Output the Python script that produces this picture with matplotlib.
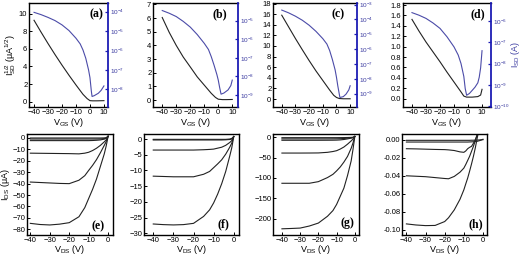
import matplotlib
matplotlib.use("Agg")
import matplotlib.pyplot as plt
from matplotlib.ticker import LogLocator, NullLocator

plt.rcParams['font.family'] = ['Liberation Sans', 'DejaVu Sans']
plt.rcParams['mathtext.fontset'] = 'custom'
plt.rcParams['mathtext.rm'] = 'Liberation Sans'
plt.rcParams['mathtext.it'] = 'Liberation Sans:italic'
plt.rcParams['mathtext.default'] = 'regular'

# ---- transfer curves (top row) ----
# (a)
vg_a_sqrt = [-40, -35, -30, -25, -20, -15, -10, -5, -2, 0, 2, 5, 10]
sqrt_a = [9.24, 7.9, 6.6, 5.35, 4.15, 3.0, 1.9, 0.84, 0.35, 0.12, 0.1, 0.1, 0.12]
vg_a_log = [-40, -35, -30, -25, -20, -15, -10, -7, -5, -3, -1, 0, 1, 1.5, 3, 6, 8, 10]
isd_a = [9.3e-5, 7.1e-5, 5.1e-5, 3.5e-5, 2.1e-5, 1.07e-5, 4.3e-6, 2.2e-6, 1.07e-6,
         4.0e-7, 1.0e-7, 4.0e-8, 7.9e-9, 4.3e-9, 4.7e-9, 6.3e-9, 8.9e-9, 1.5e-8]

# (b)
vg_b_sqrt = [-40, -35, -30, -25, -20, -15, -10, -5, -2, 0, 3, 6, 10]
sqrt_b = [6.04, 4.95, 4.0, 3.15, 2.43, 1.7, 1.1, 0.5, 0.2, 0.07, 0.04, 0.04, 0.05]
vg_b_log = [-40, -35, -30, -25, -20, -15, -10, -7, -5, -3, -1, 0, 1, 2, 4, 7, 9, 10]
isd_b = [3.5e-5, 2.5e-5, 1.66e-5, 9.1e-6, 4.5e-6, 1.78e-6, 6.0e-7, 2.8e-7, 1.15e-7,
         4.0e-8, 1.26e-8, 6.3e-9, 2.5e-9, 1.1e-9, 1.26e-9, 1.86e-9, 3.2e-9, 6.3e-9]

# (c)
vg_c_sqrt = [-40, -35, -30, -25, -20, -15, -10, -5, -2, 0, 2, 5, 10]
sqrt_c = [15.8, 13.6, 11.4, 9.3, 7.25, 5.3, 3.5, 1.7, 0.7, 0.3, 0.1, 0.05, 0.05]
vg_c_log = [-40, -35, -30, -25, -20, -15, -10, -7, -5, -3, -1, 0, 1, 2.5, 5, 7, 9, 10]
isd_c = [4.3e-4, 2.8e-4, 1.66e-4, 8.9e-5, 4.1e-5, 1.58e-5, 5.1e-6, 2.2e-6, 8.1e-7,
         2.0e-7, 4.0e-8, 1.26e-8, 3.2e-9, 5.5e-10, 6.3e-10, 9.3e-10, 1.78e-9, 3.4e-9]

# (d)
vg_d_sqrt = [-40, -35, -30, -25, -20, -15, -10, -5, -3, -1, 3, 7, 9, 10]
sqrt_d = [1.525, 1.3, 1.09, 0.9, 0.71, 0.51, 0.32, 0.13, 0.05, 0.03, 0.03, 0.04, 0.07, 0.18]
vg_d_log = [-40, -35, -30, -25, -20, -15, -10, -7, -5, -3, -2, -1, 1, 3, 5, 7, 8, 9, 10]
isd_d = [2.4e-6, 1.82e-6, 1.29e-6, 7.9e-7, 4.4e-7, 1.78e-7, 6.0e-8, 2.5e-8, 1.0e-8,
         2.5e-9, 6.8e-10, 3.3e-10, 4.0e-10, 5.6e-10, 7.9e-10, 1.26e-9, 2.3e-9, 6.3e-9, 4.0e-8]

# ---- output curves (bottom row) ----
vds = [-40, -35, -30, -25, -20, -15, -12, -10, -8, -6, -4, -2, -1, 0]

ids_e = [
    [-74.8, -75.8, -76.2, -75.5, -74.2, -69, -61, -53, -45, -36, -25, -14, -7, 1.5],
    [-38.6, -39, -39.4, -39.8, -40, -37, -33, -28.4, -24, -19, -13, -6.5, -3.2, 1.5],
    [-13.3, -13.4, -13.5, -13.6, -13.7, -13.9, -13.3, -12.5, -11, -9, -6.5, -3.4, -1.7, 1.5],
    [-2.3, -2.3, -2.3, -2.3, -2.3, -2.3, -2.3, -2.3, -2.2, -2.0, -1.7, -1.0, -0.4, 1.5],
    [-0.9, -0.9, -0.9, -0.9, -0.9, -0.9, -0.9, -0.9, -0.9, -0.9, -0.8, -0.5, -0.1, 1.5],
    [0.0, 0.0, 0.0, 0.0, 0.0, 0.0, 0.0, 0.0, 0.0, 0.0, 0.0, 0.1, 0.3, 1.5],
]

ids_f = [
    [-27.0, -27.2, -27.3, -27.2, -26.8, -24.6, -22.5, -20.3, -17.5, -14.2, -10.3, -5.4, -2.8, 0.8],
    [-11.8, -11.9, -12.0, -12.0, -12.0, -11.2, -10.3, -9.1, -7.9, -6.6, -4.8, -2.6, -1.3, 0.8],
    [-3.5, -3.5, -3.5, -3.5, -3.5, -3.4, -3.3, -3.2, -2.9, -2.6, -2.0, -1.1, -0.5, 0.8],
    [-0.3, -0.3, -0.3, -0.3, -0.3, -0.3, -0.3, -0.3, -0.3, -0.3, -0.25, -0.15, 0.0, 0.8],
    [-0.1, -0.1, -0.1, -0.1, -0.1, -0.1, -0.1, -0.1, -0.1, -0.1, -0.1, 0.0, 0.2, 0.8],
]

ids_g = [
    [-224.8, -224, -223, -218, -210.7, -194, -180, -165, -145, -125, -94, -58, -30, 2],
    [-113, -113, -113, -113, -109, -99, -91, -82.6, -73, -61, -47, -27, -14, 2],
    [-38.8, -38.8, -38.8, -38.7, -38.5, -37, -35, -33, -29, -24, -17, -9, -4.5, 2],
    [-7.4, -7.4, -7.4, -7.4, -7.4, -7.3, -7.2, -7.0, -6.5, -5.5, -4.0, -2.2, -1.0, 2],
    [-4.0, -4.0, -4.0, -4.0, -4.0, -4.0, -3.9, -3.8, -3.5, -3.0, -2.2, -1.2, -0.5, 2],
    [-1.0, -1.0, -1.0, -1.0, -1.0, -1.0, -1.0, -1.0, -0.9, -0.8, -0.6, -0.3, 0.0, 2],
]

vds_h = [-40, -35, -30, -25, -20, -18, -15, -12, -10, -9, -8, -7, -6, -5, -4, -3, -2, -1, 0]
ids_h = [
    [-0.0933, -0.0945, -0.0952, -0.095, -0.0907, -0.0865, -0.0778, -0.066, -0.0556, -0.049,
     -0.0426, -0.035, -0.027, -0.0185, -0.009, 0.002, 0.012, 0.02, 0.03],
    [-0.040, -0.0405, -0.041, -0.042, -0.043, -0.0433, -0.0407, -0.036, -0.0315, -0.0275,
     -0.023, -0.0185, -0.013, -0.0074, -0.001, 0.0056, 0.012, 0.02, 0.03],
    [-0.010, -0.0102, -0.0105, -0.0108, -0.011, -0.0113, -0.012, -0.0135, -0.014, -0.0125,
     -0.010, -0.0085, -0.0074, -0.004, 0.0, 0.0056, 0.012, 0.02, 0.03],
    [-0.0026, -0.0026, -0.0026, -0.0026, -0.0026, -0.0026, -0.0026, -0.0026, -0.0026, -0.0026,
     -0.0026, -0.0025, -0.0024, -0.0023, -0.0021, -0.0018, -0.0012, -0.0005, 0.0005],
    [-0.0007, -0.0007, -0.0007, -0.0007, -0.0007, -0.0007, -0.0007, -0.0007, -0.0007, -0.0007,
     -0.0007, -0.0007, -0.0006, -0.0006, -0.0005, -0.0004, -0.0003, -0.0001, 0.0],
]

BLUE_LINE = '#4b4ba8'
BLUE_AX = '#1c1cb4'
BLUE_TXT = '#3a3aa0'
DARK = '#222222'

fig = plt.figure(figsize=(5.2, 2.57), dpi=100)


def px_axes(x0, x1, y0, y1):
    return fig.add_axes([x0 / 520, 1 - y1 / 257, (x1 - x0) / 520, (y1 - y0) / 257])


def style(ax):
    ax.tick_params(direction='in', length=2.5, width=0.7, labelsize=5.5, pad=1.2)
    for s in ax.spines.values():
        s.set_linewidth(1.0)


def panel_label(ax, txt, x, y, va='center'):
    ax.text(x, y, txt, transform=ax.transAxes, ha='center', va=va,
            fontsize=8.5, fontweight='bold', family='Liberation Serif')


top = [
    ('(a)', vg_a_sqrt, sqrt_a, vg_a_log, isd_a, (29, 108), (-43.6, 12.9), (-0.6, 11.2),
     range(0, 11, 2), (10 ** -8.91, 10 ** -3.55), 0.85),
    ('(b)', vg_b_sqrt, sqrt_b, vg_b_log, isd_b, (153, 238), (-46.6, 14.1), (-0.5, 7.1),
     range(0, 8, 1), (10 ** -9.65, 10 ** -4.05), 0.79),
    ('(c)', vg_c_sqrt, sqrt_c, vg_c_log, isd_c, (273, 357), (-46.4, 15.0), (-1.5, 18.1),
     range(0, 19, 2), (10 ** -9.9, 10 ** -2.89), 0.78),
    ('(d)', vg_d_sqrt, sqrt_d, vg_d_log, isd_d, (403, 491), (-46.4, 16.4), (-0.16, 1.84),
     [0.0, 0.2, 0.4, 0.6, 0.8, 1.0, 1.2, 1.4, 1.6, 1.8], (10 ** -10.03, 10 ** -5.17), 0.85),
]

for i, (lab, xs, ys, xl, yl, (x0, x1), xlim, ylim, yt, rlim, lx) in enumerate(top):
    ax = px_axes(x0, x1, 3, 107)
    style(ax)
    ax.plot(xs, ys, color=DARK, lw=0.8)
    ax.set_xlim(*xlim)
    ax.set_ylim(*ylim)
    ax.set_xticks([-40, -30, -20, -10, 0, 10])
    ax.set_yticks(list(yt))
    if i == 3:
        ax.set_yticklabels(['%.1f' % v for v in yt])
    ax.spines['right'].set_visible(False)
    ax.set_xlabel('V$_{GS}$ (V)', fontsize=6.5, labelpad=0.5)
    ax2 = ax.twinx()
    ax2.plot(xl, yl, color=BLUE_LINE, lw=0.8)
    ax2.set_yscale('log')
    ax2.set_ylim(*rlim)
    ax2.yaxis.set_major_locator(LogLocator(base=10, numticks=15))
    ax2.yaxis.set_minor_locator(NullLocator())
    ax2.tick_params(direction='in', length=2.5, width=0.9, labelsize=4.6, pad=1.2,
                    colors=BLUE_AX, labelcolor=BLUE_TXT)
    for s in ('left', 'top', 'bottom'):
        ax2.spines[s].set_visible(False)
    ax2.spines['right'].set_color(BLUE_AX)
    ax2.spines['right'].set_linewidth(1.3)
    panel_label(ax, lab, lx, 0.89)
    if i == 0:
        ax.set_ylabel('I$_{SD}^{1/2}$ (μA$^{1/2}$)', fontsize=6.5, labelpad=1)
    if i == 3:
        ax2.set_ylabel('I$_{SD}$ (A)', fontsize=6.3, color=BLUE_TXT, labelpad=-0.5)

bottom = [
    ('(e)', vds, ids_e, (27, 113), (-41.7, 2.5), (-85, 3.5), range(-80, 1, 10), 0.83, 0.03),
    ('(f)', vds, ids_f, (144, 239), (-44.6, 2.6), (-30.5, 1.6), range(-30, 1, 5), 0.84, 0.05),
    ('(g)', vds, ids_g, (273, 359), (-44.9, 2.3), (-240, 8), range(-200, 1, 50), 0.86, 0.06),
    ('(h)', vds_h, ids_h, (402, 487), (-42.3, 2.1), (-0.1056, 0.0063),
     [-0.10, -0.08, -0.06, -0.04, -0.02, 0.0], 0.87, 0.05),
]

for i, (lab, xs, curves, (x0, x1), xlim, ylim, yt, lx, ly) in enumerate(bottom):
    ax = px_axes(x0, x1, 134, 235)
    style(ax)
    for c in curves:
        ax.plot(xs, c, color=DARK, lw=0.8)
    ax.set_xlim(*xlim)
    ax.set_ylim(*ylim)
    ax.set_xticks([-40, -30, -20, -10, 0])
    ax.set_yticks(list(yt))
    if i == 3:
        ax.set_yticklabels(['%.2f' % v for v in yt])
    ax.set_xlabel('V$_{DS}$ (V)', fontsize=6.5, labelpad=-0.5)
    panel_label(ax, lab, lx, ly, va='bottom')
    if i == 0:
        ax.set_ylabel('I$_{DS}$ (μA)', fontsize=6.5, labelpad=0)

fig.savefig('out.png', dpi=100)
